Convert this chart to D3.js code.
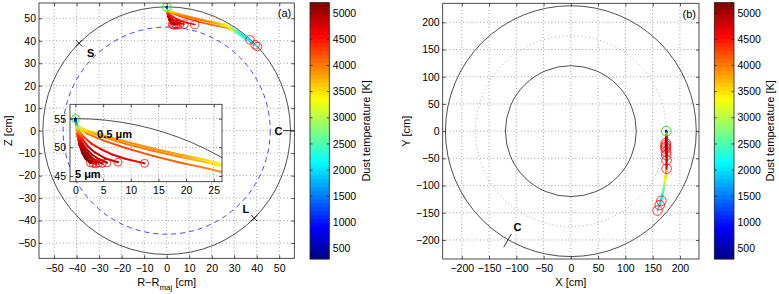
<!DOCTYPE html>
<html>
<head>
<meta charset="utf-8">
<script src="https://cdn.jsdelivr.net/npm/d3@7"></script>
<style>
body { margin: 0; background: #fff; }
svg { display: block; }
text { font-family: "Liberation Sans", Arial, Helvetica, sans-serif; }
</style>
</head>
<body>
<svg id="fig" width="779" height="294"></svg>
<script>
var W = 779, H = 294;

// ---- data ----
var tempRange = [300, 5200];
var cbTicks = [500, 1000, 1500, 2000, 2500, 3000, 3500, 4000, 4500, 5000];
var polTicks = [-50, -40, -30, -20, -10, 0, 10, 20, 30, 40, 50];
var torTicks = [-200, -150, -100, -50, 0, 50, 100, 150, 200];
var insetXTicks = [0, 5, 10, 15, 20, 25];
var insetYTicks = [45, 50, 55];

var wallRadius = 55, dashedRadius = 46;
var torWalls = [120, 230], torMajor = 175;

var polStart = [0, 55];
var torStart = [175, 0];

// poloidal tracks [R-Rmaj, Z, T]; first three are the long ones
var polTracks = [
  [[0,55,300],[0.05,54.5,1200],[0.2,54.0,2300],[0.6,53.6,3000],[2,53.0,3500],[5,52.1,3800],[9,51.0,3900],[14,49.8,3900],[19,48.7,3800],[23,47.9,3600],[26.5,47.1,3300],[29,45.8,2800],[32,44.0,2300],[35,41.8,2100],[38,39.4,2000],[40.3,37.4,1950]],
  [[0,55,300],[0.05,54.5,1200],[0.2,53.9,2400],[0.6,53.3,3300],[2,52.4,3900],[5,51.2,4200],[9,49.9,4300],[14,48.5,4200],[19,47.3,4100],[23,46.5,4000],[26.5,45.7,3900],[29,44.6,3300],[32,42.8,2600],[35,40.6,2200],[37.2,39.4,2050],[39.3,38.2,2000]],
  [[0,55,300],[0.05,54.5,1200],[0.2,54.0,2300],[0.6,53.5,3100],[2,52.8,3600],[5,51.8,3900],[9,50.6,4000],[14,49.4,4000],[19,48.3,3900],[23,47.5,3700],[26.5,46.7,3400],[29,45.3,2900],[32,43.3,2400],[34.5,41.8,2150],[37,40.4,2000]],
  [[0,55,300],[0.05,54.5,1200],[0.2,53.9,2500],[0.6,53.0,3700],[1.5,51.8,4300],[2.8,50.7,4500],[4.5,49.7,4600],[6.5,48.8,4650],[9,48.0,4700],[12.5,47.2,4700]],
  [[0,55,300],[0.05,54.5,1200],[0.2,53.8,2600],[0.5,52.8,3800],[1.2,51.5,4500],[2.2,50.2,4750],[3.5,49.1,4850],[5.3,48.1,4900],[7.7,47.4,4900]],
  [[0,55,300],[0.05,54.5,1200],[0.2,53.7,2700],[0.45,52.6,3900],[1.0,51.2,4600],[1.9,49.8,4850],[3.0,48.7,4950],[4.3,47.9,5000],[5.7,47.3,5000]],
  [[0,55,300],[0.05,54.5,1200],[0.2,53.6,2800],[0.4,52.5,4000],[0.9,51.0,4700],[1.7,49.6,4950],[2.7,48.4,5050],[3.7,47.7,5100],[4.8,47.2,5100]],
  [[0,55,300],[0.05,54.5,1200],[0.2,53.5,2900],[0.4,52.3,4100],[0.8,50.8,4750],[1.5,49.4,5000],[2.4,48.3,5100],[3.3,47.6,5150],[4.2,47.3,5150]],
  [[0,55,300],[0.05,54.5,1200],[0.2,53.4,3000],[0.35,52.2,4200],[0.7,50.6,4800],[1.3,49.2,5050],[2.1,48.1,5150],[2.9,47.5,5200],[3.7,47.1,5200]],
  [[0,55,300],[0.05,54.5,1200],[0.15,53.4,3000],[0.35,52.0,4300],[0.7,50.4,4850],[1.2,49.0,5100],[1.8,48.0,5200],[2.5,47.4,5200],[3.2,47.2,5200]],
  [[0,55,300],[0.05,54.5,1200],[0.15,53.5,3100],[0.45,52.0,4400],[0.9,50.4,4900],[1.4,49.0,5150],[2.0,48.0,5200],[2.7,47.3,5200]]
];

// toroidal tracks [X, Y, T], same order
var torTracks = [
  [[175,0,300],[175,-2,1500],[175,-5,3000],[175.3,-12,3800],[175.6,-30,3900],[175.6,-55,3900],[175,-72,3800],[173,-86,3500],[170.5,-100,3000],[168,-114,2400],[164,-128,2100],[161.5,-138,2000],[159,-146,1950]],
  [[175,0,300],[175,-2,1500],[175,-5,3100],[175.3,-12,4000],[175.8,-30,4200],[175.8,-55,4100],[175.3,-72,3900],[173.5,-88,3500],[171,-104,2800],[168,-118,2300],[165,-129,2050],[163,-136,2000]],
  [[175,0,300],[175,-2,1500],[175,-5,3000],[175.3,-12,3900],[175.7,-30,4000],[175.7,-55,4000],[175.2,-72,3800],[173.5,-88,3300],[170.5,-104,2700],[168,-117,2200],[166,-128,2000]],
  [[175,0,300],[175,-2,1500],[175,-5,3400],[175.3,-12,4300],[175.6,-35,4600],[175.5,-69,4700]],
  [[175,0,300],[175,-2,1500],[175,-5,3500],[175.3,-12,4500],[175.5,-30,4800],[175.5,-53.5,4900]],
  [[175,0,300],[175,-2,1500],[175,-5,3500],[175.2,-12,4600],[175.3,-25,4950],[175,-44,5000]],
  [[175,0,300],[175,-2,1500],[175,-5,3600],[175.2,-12,4700],[175,-22,5050],[174.5,-38,5100]],
  [[175,0,300],[175,-2,1500],[175,-5,3600],[175.1,-12,4750],[174.8,-20,5100],[174,-32,5150]],
  [[175,0,300],[175,-2,1500],[175,-5,3700],[175.1,-12,4800],[174.6,-19,5150],[173.5,-29.5,5200]],
  [[175,0,300],[175,-2,1500],[175,-5,3700],[175,-11,4850],[174.6,-17,5200],[174,-26,5200]],
  [[175,0,300],[175,-2,1500],[175,-5,3800],[175,-10,4900],[174.6,-15,5200],[174,-22,5200]]
];

// annotations
var polMarkS = [-38.9, 38.9], polMarkL = [38.9, -38.9];
var polMarkC = [[51.7, 0], [58.3, 0]];
var torMarkC = [[-109, -188.8], [-123, -213.2]];

// ---- scales ----
var xa = d3.scaleLinear().domain([-56.7, 56.7]).range([39, 294.3]);
var ya = d3.scaleLinear().domain([-56.8, 56.8]).range([258.3, 3]);
var xi = d3.scaleLinear().domain([-1, 26.5]).range([70, 222]);
var yi = d3.scaleLinear().domain([44, 57.5]).range([181.7, 104.3]);
var xb = d3.scaleLinear().domain([-235, 235]).range([442.7, 699]);
var yb = d3.scaleLinear().domain([-235, 235]).range([259, 3.3]);

var span = tempRange[1] - tempRange[0];
var jet = d3.scaleLinear()
  .domain([0, 0.125, 0.375, 0.625, 0.875, 1].map(function(t) { return tempRange[0] + t * span; }))
  .range(['#000080', '#0000ff', '#00ffff', '#ffff00', '#ff0000', '#800000'])
  .clamp(true);

var svg = d3.select('#fig');
svg.append('rect').attr('width', W).attr('height', H).attr('fill', '#fff');
var defs = svg.append('defs');

function clipFor(id, x, y) {
  defs.append('clipPath').attr('id', id).append('rect')
    .attr('x', x.range()[0]).attr('y', y.range()[1])
    .attr('width', x.range()[1] - x.range()[0])
    .attr('height', y.range()[0] - y.range()[1]);
}
clipFor('clipA', xa, ya);
clipFor('clipI', xi, yi);
clipFor('clipB', xb, yb);

function grid(g, x, y, xt, yt) {
  var gg = g.append('g').attr('stroke', '#555').attr('stroke-width', 0.7).attr('stroke-dasharray', '0.8,2.6');
  gg.selectAll('.gx').data(xt).join('line')
    .attr('x1', function(d) { return x(d); }).attr('x2', function(d) { return x(d); })
    .attr('y1', y.range()[0]).attr('y2', y.range()[1]);
  gg.selectAll('.gy').data(yt).join('line')
    .attr('y1', function(d) { return y(d); }).attr('y2', function(d) { return y(d); })
    .attr('x1', x.range()[0]).attr('x2', x.range()[1]);
}

function frame(g, x, y, xt, yt, padX, padY, fs) {
  var x0 = x.range()[0], x1 = x.range()[1], y0 = y.range()[1], y1 = y.range()[0];
  var axes = [
    [d3.axisBottom(x).tickValues(xt).tickPadding(padX), 'translate(0,' + y1 + ')', true],
    [d3.axisTop(x).tickValues(xt).tickFormat(''), 'translate(0,' + y0 + ')', false],
    [d3.axisLeft(y).tickValues(yt).tickPadding(padY), 'translate(' + x0 + ',0)', true],
    [d3.axisRight(y).tickValues(yt).tickFormat(''), 'translate(' + x1 + ',0)', false]
  ];
  axes.forEach(function(a) {
    var ag = g.append('g').attr('transform', a[1])
      .call(a[0].tickSizeInner(-3).tickSizeOuter(0));
    ag.select('.domain').remove();
    ag.selectAll('line').attr('stroke', '#222').attr('stroke-width', 0.8);
    ag.selectAll('text').attr('font-size', fs).attr('fill', '#000')
      .attr('font-family', '"Liberation Sans", Arial, sans-serif');
    ag.attr('font-family', null).attr('font-size', null);
  });
  g.append('rect').attr('x', x0).attr('y', y0).attr('width', x1 - x0).attr('height', y1 - y0)
    .attr('fill', 'none').attr('stroke', '#222').attr('stroke-width', 0.8);
}

var gradId = 0;
function drawTracks(g, tracks, sx, sy, w) {
  tracks.forEach(function(tr) {
    for (var i = 0; i < tr.length - 1; i++) {
      var a = tr[i], b = tr[i + 1];
      var id = 'gr' + (gradId++);
      var lg = defs.append('linearGradient').attr('id', id)
        .attr('gradientUnits', 'userSpaceOnUse')
        .attr('x1', sx(a[0])).attr('y1', sy(a[1]))
        .attr('x2', sx(b[0])).attr('y2', sy(b[1]));
      lg.append('stop').attr('offset', 0).attr('stop-color', jet(a[2]));
      lg.append('stop').attr('offset', 1).attr('stop-color', jet(b[2]));
      g.append('line')
        .attr('x1', sx(a[0])).attr('y1', sy(a[1]))
        .attr('x2', sx(b[0])).attr('y2', sy(b[1]))
        .attr('stroke', 'url(#' + id + ')').attr('stroke-width', w)
        .attr('stroke-linecap', 'round');
    }
  });
}

function endCircles(g, tracks, sx, sy, r) {
  g.selectAll(null).data(tracks).join('circle')
    .attr('cx', function(d) { return sx(d[d.length - 1][0]); })
    .attr('cy', function(d) { return sy(d[d.length - 1][1]); })
    .attr('r', r).attr('fill', 'none').attr('stroke', '#ff0000').attr('stroke-width', 0.8);
}

function startCircle(g, p, sx, sy, r) {
  g.append('circle').attr('cx', sx(p[0])).attr('cy', sy(p[1])).attr('r', r)
    .attr('fill', 'none').attr('stroke', '#00ee00').attr('stroke-width', 0.9);
}

function xMark(g, p, sx, sy) {
  var cx = sx(p[0]), cy = sy(p[1]), s = 3.2;
  g.append('path').attr('d', 'M' + (cx - s) + ',' + (cy - s) + 'L' + (cx + s) + ',' + (cy + s) +
      'M' + (cx - s) + ',' + (cy + s) + 'L' + (cx + s) + ',' + (cy - s))
    .attr('stroke', '#000').attr('stroke-width', 0.8);
}

function label(g, x, y, txt, opts) {
  opts = opts || {};
  return g.append('text').attr('x', x).attr('y', y).text(txt)
    .attr('font-size', opts.fs || 11)
    .attr('font-weight', opts.bold ? 'bold' : null)
    .attr('text-anchor', opts.anchor || 'middle');
}

function colorbar(x0, x1, y0, y1, labelX) {
  var cb = d3.scaleLinear().domain(tempRange).range([y1, y0]);
  var g = svg.append('g');
  var steps = d3.range(64);
  g.selectAll('rect').data(steps).join('rect')
    .attr('x', x0).attr('width', x1 - x0)
    .attr('y', function(k) { return cb(tempRange[0] + (k + 1) / 64 * span) - 0.3; })
    .attr('height', function(k) { return cb(tempRange[0] + k / 64 * span) - cb(tempRange[0] + (k + 1) / 64 * span) + 0.6; })
    .attr('fill', function(k) { return jet(tempRange[0] + (k + 0.5) / 64 * span); });
  g.selectAll('.tk').data(cbTicks).join('path')
    .attr('d', function(d) { var y = cb(d); return 'M' + x0 + ',' + y + 'h2.5M' + x1 + ',' + y + 'h-2.5'; })
    .attr('stroke', '#222').attr('stroke-width', 0.8);
  g.selectAll('.tl').data(cbTicks).join('text')
    .attr('x', x1 + 3.5).attr('y', function(d) { return cb(d); }).attr('dy', '0.35em')
    .attr('font-size', 10.5).text(function(d) { return d; });
  g.append('rect').attr('x', x0).attr('y', y0).attr('width', x1 - x0).attr('height', y1 - y0)
    .attr('fill', 'none').attr('stroke', '#222').attr('stroke-width', 0.8);
  label(g, 0, 0, 'Dust temperature [K]')
    .attr('transform', 'translate(' + labelX + ',' + ((y0 + y1) / 2) + ') rotate(-90)');
}

// ---- panel (a) ----
var ga = svg.append('g');
grid(ga, xa, ya, polTicks, polTicks);
var pa = ga.append('g').attr('clip-path', 'url(#clipA)');
pa.append('circle').attr('cx', xa(0)).attr('cy', ya(0)).attr('r', xa(wallRadius) - xa(0))
  .attr('fill', 'none').attr('stroke', '#222').attr('stroke-width', 0.8);
pa.append('circle').attr('cx', xa(0)).attr('cy', ya(0)).attr('r', xa(dashedRadius) - xa(0))
  .attr('fill', 'none').attr('stroke', '#3030ff').attr('stroke-width', 0.9).attr('stroke-dasharray', '5,4');
drawTracks(pa, polTracks, xa, ya, 1.6);
endCircles(pa, polTracks, xa, ya, 4.3);
startCircle(pa, polStart, xa, ya, 4.3);
xMark(pa, polMarkS, xa, ya);
xMark(pa, polMarkL, xa, ya);
pa.append('line').attr('x1', xa(polMarkC[0][0])).attr('y1', ya(polMarkC[0][1]))
  .attr('x2', xa(polMarkC[1][0])).attr('y2', ya(polMarkC[1][1]))
  .attr('stroke', '#000').attr('stroke-width', 0.8);
label(ga, xa(-33.8), ya(34.5) + 4, 'S', { bold: true });
label(ga, xa(35.2), ya(-35) + 4, 'L', { bold: true });
label(ga, xa(49.7), ya(0) + 4, 'C', { bold: true });
label(ga, xa.range()[1] - 3, ya.range()[1] + 14, '(a)', { anchor: 'end' });
frame(ga, xa, ya, polTicks, polTicks, 6, 3, 10.5);
var xl = label(ga, xa(0), 286, 'R\u2212R');
xl.append('tspan').attr('font-size', 8).attr('dy', 3.5).text('maj');
xl.append('tspan').attr('dy', -3.5).text(' [cm]');
label(ga, 0, 0, 'Z [cm]').attr('transform', 'translate(11.5,' + ya(0) + ') rotate(-90)');

// inset
var gi = svg.append('g');
gi.append('rect').attr('x', xi.range()[0]).attr('y', yi.range()[1])
  .attr('width', xi.range()[1] - xi.range()[0]).attr('height', yi.range()[0] - yi.range()[1])
  .attr('fill', '#fff');
grid(gi, xi, yi, insetXTicks, insetYTicks);
var pi = gi.append('g').attr('clip-path', 'url(#clipI)');
pi.append('ellipse').attr('cx', xi(0)).attr('cy', yi(0))
  .attr('rx', xi(wallRadius) - xi(0)).attr('ry', yi(0) - yi(wallRadius))
  .attr('fill', 'none').attr('stroke', '#222').attr('stroke-width', 0.8);
drawTracks(pi, polTracks, xi, yi, 2);
endCircles(pi, polTracks, xi, yi, 4);
startCircle(pi, polStart, xi, yi, 4);
label(gi, xi(3.9), yi(51.6), '0.5 \u03bcm', { bold: true, anchor: 'start' });
label(gi, xi(-0.1), yi(44.65), '5 \u03bcm', { bold: true, anchor: 'start' });
frame(gi, xi, yi, insetXTicks, insetYTicks, 4.5, 4, 10.5);

colorbar(310, 329.3, 2.7, 259, 369.5);

// ---- panel (b) ----
var gb = svg.append('g');
grid(gb, xb, yb, torTicks, torTicks);
var pb = gb.append('g').attr('clip-path', 'url(#clipB)');
torWalls.forEach(function(r) {
  pb.append('circle').attr('cx', xb(0)).attr('cy', yb(0)).attr('r', xb(r) - xb(0))
    .attr('fill', 'none').attr('stroke', '#222').attr('stroke-width', 0.8);
});
pb.append('circle').attr('cx', xb(0)).attr('cy', yb(0)).attr('r', xb(torMajor) - xb(0))
  .attr('fill', 'none').attr('stroke', '#666').attr('stroke-width', 0.7).attr('stroke-dasharray', '0.8,3');
drawTracks(pb, torTracks, xb, yb, 1.8);
endCircles(pb, torTracks, xb, yb, 4.8);
startCircle(pb, torStart, xb, yb, 4.8);
pb.append('line').attr('x1', xb(torMarkC[0][0])).attr('y1', yb(torMarkC[0][1]))
  .attr('x2', xb(torMarkC[1][0])).attr('y2', yb(torMarkC[1][1]))
  .attr('stroke', '#000').attr('stroke-width', 0.8);
label(gb, xb(-98), yb(-176) + 4, 'C', { bold: true });
label(gb, xb.range()[1] - 3, yb.range()[1] + 15, '(b)', { anchor: 'end' });
frame(gb, xb, yb, torTicks, torTicks, 6, 3, 10.5);
label(gb, xb(0), 285.5, 'X [cm]');
label(gb, 0, 0, 'Y [cm]').attr('transform', 'translate(410,' + yb(0) + ') rotate(-90)');

colorbar(714.3, 734, 2.7, 259, 774);
</script>
</body>
</html>
